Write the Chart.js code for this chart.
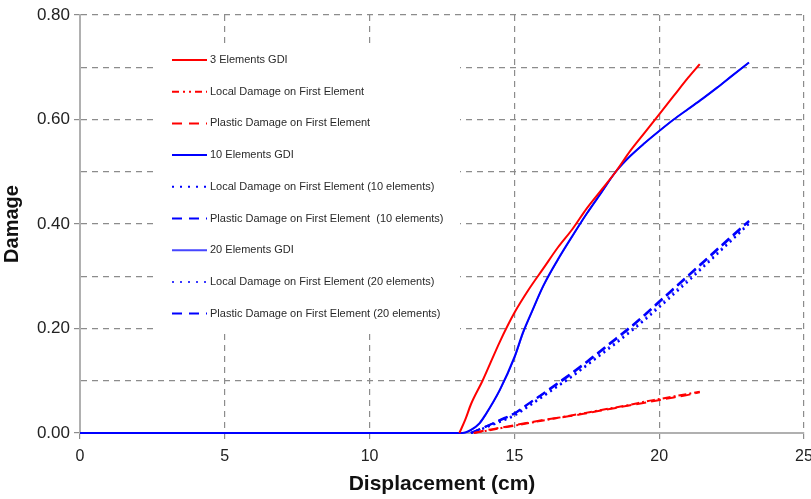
<!DOCTYPE html>
<html>
<head>
<meta charset="utf-8">
<script src="https://cdn.jsdelivr.net/npm/chart.js@4"></script>
<style>
  html, body { margin: 0; padding: 0; background: #fff; overflow: hidden; }
  #wrap { width: 822px; height: 499px; position: relative; }
</style>
</head>
<body>
<div id="wrap"><canvas id="myChart"></canvas></div>
<script>
// 3 elements
const gdi3X = [13.1, 13.3, 13.5, 13.9, 14.5, 15.0, 15.5, 16.0, 16.5, 17.0, 17.5, 18.0, 18.5, 19.0, 19.5, 20.0, 20.5, 21.0, 21.4];
const gdi3Y = [0, 0.025, 0.055, 0.10, 0.175, 0.23, 0.275, 0.315, 0.355, 0.39, 0.43, 0.465, 0.50, 0.54, 0.575, 0.61, 0.645, 0.68, 0.706];
const red1X = [13.6, 14.0, 14.5, 15.0, 15.5, 16.0, 16.5, 17.0, 17.5, 18.0, 18.5, 19.0, 19.5, 20.0, 20.5, 21.0, 21.4];
const localRedY = [0, 0.004, 0.009, 0.014, 0.019, 0.024, 0.029, 0.034, 0.039, 0.044, 0.049, 0.054, 0.060, 0.065, 0.070, 0.075, 0.079];
const plasticRedY = [0, 0.005, 0.010, 0.015, 0.020, 0.025, 0.029, 0.033, 0.038, 0.043, 0.048, 0.053, 0.058, 0.063, 0.068, 0.073, 0.078];

// 10 / 20 elements
const gdiBlueX = [0, 13.2, 13.5, 13.8, 14.0, 14.5, 15.0, 15.3, 15.6, 16.0, 16.5, 17.0, 17.5, 18.0, 18.5, 19.0, 19.5, 20.0, 20.5, 21.0, 21.5, 22.0, 22.5, 23.1];
const gdi10Y = [0, 0, 0.006, 0.019, 0.035, 0.083, 0.145, 0.193, 0.232, 0.282, 0.332, 0.377, 0.42, 0.46, 0.50, 0.53, 0.555, 0.578, 0.60, 0.62, 0.64, 0.661, 0.683, 0.709];
const gdi20Y = [0, 0, 0.005, 0.018, 0.034, 0.082, 0.143, 0.191, 0.231, 0.281, 0.331, 0.376, 0.42, 0.46, 0.50, 0.53, 0.555, 0.578, 0.60, 0.62, 0.64, 0.661, 0.683, 0.709];
const blueX = [13.5, 14.0, 14.5, 15.0, 15.5, 16.0, 16.5, 17.0, 17.5, 18.0, 18.5, 19.0, 19.5, 20.0, 20.5, 21.0, 21.5, 22.0, 22.5, 23.1];
const local10Y = [0, 0.010, 0.021, 0.033, 0.051, 0.070, 0.089, 0.108, 0.129, 0.150, 0.171, 0.193, 0.216, 0.240, 0.265, 0.290, 0.316, 0.342, 0.368, 0.400];
const plastic10Y = [0, 0.012, 0.024, 0.037, 0.056, 0.075, 0.094, 0.114, 0.135, 0.157, 0.179, 0.201, 0.225, 0.250, 0.275, 0.300, 0.325, 0.350, 0.375, 0.405];
const local20Y = [0, 0.011, 0.022, 0.035, 0.053, 0.072, 0.091, 0.110, 0.131, 0.153, 0.174, 0.196, 0.219, 0.244, 0.269, 0.294, 0.319, 0.345, 0.371, 0.402];
const plastic20Y = [0, 0.012, 0.025, 0.038, 0.057, 0.076, 0.096, 0.116, 0.137, 0.159, 0.181, 0.203, 0.227, 0.252, 0.277, 0.302, 0.327, 0.352, 0.377, 0.406];

const xTicks = [0, 5, 10, 15, 20, 25];
const yLabelTicks = [0, 0.2, 0.4, 0.6, 0.8];

function pts(xs, ys) {
  return xs.map((x, i) => ({ x: x, y: ys[i] }));
}

function serie(label, xs, ys, color, dash, legendDash, width) {
  return {
    label: label,
    data: pts(xs, ys),
    borderColor: color,
    borderWidth: width || 2,
    borderDash: dash,
    legendDash: legendDash,
    pointRadius: 0,
    cubicInterpolationMode: "monotone",
    fill: false,
    clip: 3,
  };
}

const datasets = [
  serie("3 Elements GDI", gdi3X, gdi3Y, "#ff0000", [], []),
  serie("Local Damage on First Element", red1X, localRedY, "#ff0000", [8, 3, 2, 3], [7, 4, 2, 4, 2, 4]),
  serie("Plastic Damage on First Element", red1X, plasticRedY, "#ff0000", [10, 5], [10, 7]),
  serie("10 Elements GDI", gdiBlueX, gdi10Y, "#0000ff", [], []),
  serie("Local Damage on First Element (10 elements)", blueX, local10Y, "#0000ff", [2, 4], [2, 6]),
  serie("Plastic Damage on First Element  (10 elements)", blueX, plastic10Y, "#0000ff", [10, 5], [10, 7]),
  serie("20 Elements GDI", gdiBlueX, gdi20Y, "#4646ff", [], [], 1.5),
  serie("Local Damage on First Element (20 elements)", blueX, local20Y, "#3a3aff", [2, 4], [2, 6]),
  serie("Plastic Damage on First Element (20 elements)", blueX, plastic20Y, "#0000ff", [10, 5], [10, 7]),
];

// legende dentro do gráfico, com fundo branco
const boxLegend = {
  id: "boxLegend",
  beforeDatasetsDraw(chart) {
    const c = chart.ctx;
    c.save();
    c.fillStyle = "#ffffff";
    c.fillRect(153, 43, 307, 287);
    c.font = "11px Arial, 'Liberation Sans', sans-serif";
    c.textBaseline = "middle";
    chart.data.datasets.forEach((ds, i) => {
      const y = 60 + i * 31.7;
      c.strokeStyle = ds.borderColor;
      c.lineWidth = 2;
      c.setLineDash(ds.legendDash);
      c.beginPath();
      c.moveTo(172, y);
      c.lineTo(207, y);
      c.stroke();
      c.fillStyle = "#2a2a2a";
      c.fillText(ds.label, 210, y);
    });
    c.restore();
  },
};

const ctx = document.getElementById("myChart").getContext("2d");
const myChart = new Chart(ctx, {
  type: "line",
  data: { datasets: datasets },
  plugins: [boxLegend],
  options: {
    animation: { duration: 0 },
    responsive: true,
    maintainAspectRatio: false,
    layout: { padding: { top: 15, right: 18, left: 0, bottom: 0 } },
    scales: {
      x: {
        type: "linear",
        min: 0,
        max: 25,
        afterFit: (s) => { s.height = 66; },
        afterBuildTicks: (s) => { s.ticks = xTicks.map((v) => ({ value: v })); },
        ticks: {
          color: "#222222",
          padding: 8,
          font: { size: 16, family: "Arial, 'Liberation Sans', sans-serif" },
        },
        grid: {
          color: "#8c8c8c",
          lineWidth: 1.2,
          tickLength: 6,
          tickColor: "#8c8c8c",
        },
        border: { color: "#b0b0b0", width: 2, dash: [6, 5] },
        title: {
          display: true,
          text: "Displacement (cm)",
          color: "#111111",
          padding: { top: 0, bottom: 2 },
          font: { size: 21, weight: "bold", family: "Arial, 'Liberation Sans', sans-serif" },
        },
      },
      y: {
        min: 0,
        max: 0.8,
        afterFit: (s) => { s.width = 80; },
        ticks: {
          stepSize: 0.1,
          color: "#222222",
          padding: 4,
          font: { size: 17, family: "Arial, 'Liberation Sans', sans-serif" },
          callback: (v) => {
            const r = Math.round(v * 10) / 10;
            return yLabelTicks.some((t) => Math.abs(t - r) < 1e-6) ? r.toFixed(2) : "";
          },
        },
        grid: {
          color: "#8c8c8c",
          lineWidth: 1.2,
          tickLength: 6,
          tickColor: (c) => (c.tick && Math.round(c.tick.value * 10) % 2 === 0 ? "#8c8c8c" : "rgba(0,0,0,0)"),
        },
        border: { color: "#b0b0b0", width: 2, dash: [6, 5] },
        title: {
          display: true,
          text: "Damage",
          color: "#111111",
          padding: { top: 0, bottom: 0 },
          font: { size: 20, weight: "bold", family: "Arial, 'Liberation Sans', sans-serif" },
        },
      },
    },
    plugins: {
      legend: { display: false },
      tooltip: { enabled: false },
    },
  },
});
</script>
</body>
</html>
